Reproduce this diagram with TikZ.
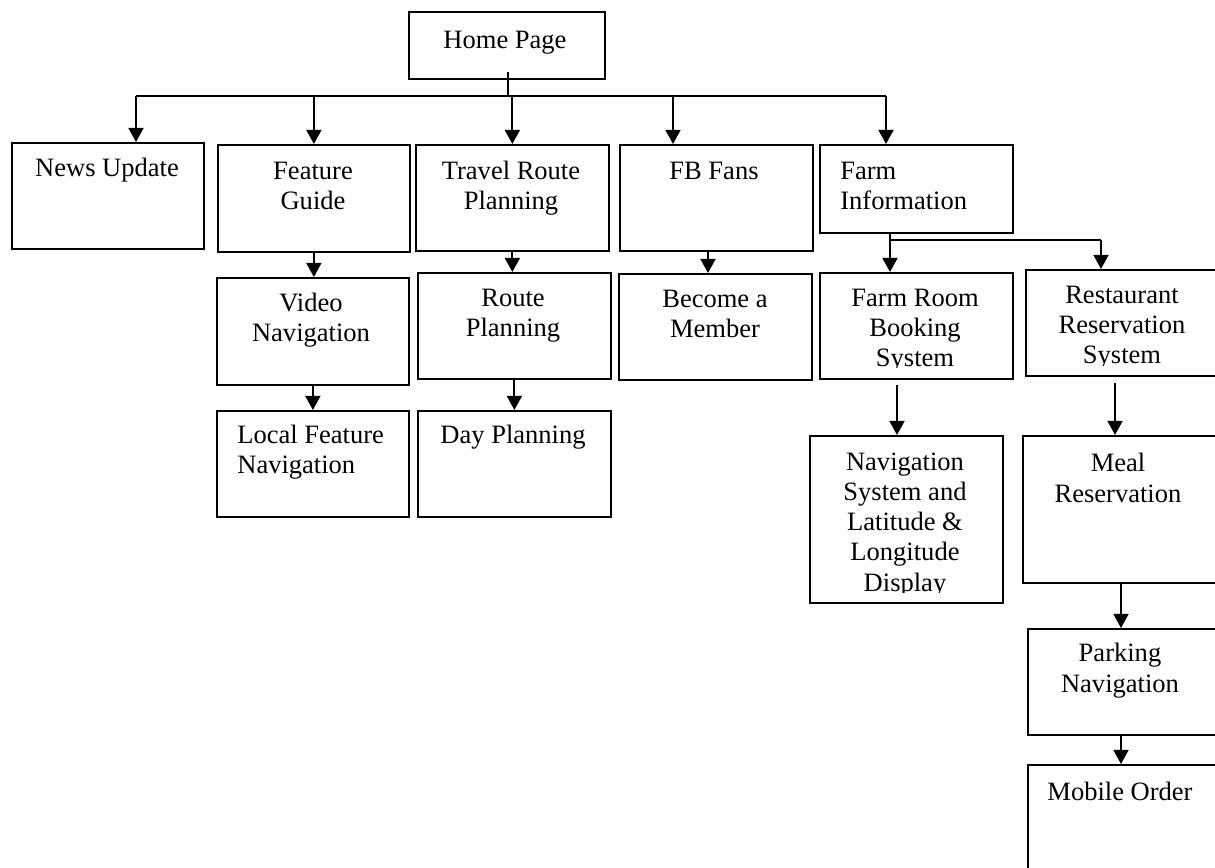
\documentclass[tikz,border=0pt]{standalone}
\usepackage{fontspec}
\setmainfont{Liberation Serif}
\usetikzlibrary{arrows.meta,positioning}

\begin{document}
\begin{tikzpicture}[x=0.02cm,y=-0.02cm]
  % Styles for page boxes, their texts and the links
  \tikzset{pagebox/.style 2 args={draw, line width=1pt, anchor=north west, inner sep=0pt,
      minimum width=#1*0.02cm, minimum height=#2*0.02cm}}
  % texts sit on the baseline of their last line
  \tikzset{pagetext/.style={anchor=base, align=center, inner sep=0pt,
      font=\fontsize{15.1}{17.1}\selectfont}}
  \tikzset{pageleft/.style={pagetext, anchor=base west, align=left}}
  \tikzset{navline/.style={line width=1.1pt}}
  \tikzset{navarrow/.style={navline, -{Triangle[width=8.5pt,length=8pt]}}}

  \clip (0,0) rectangle (1215,868);

  % Home page
  \node[pagebox={196}{67}] (home) at (408,11) {};
  \node[pagetext] (homeT) at (505,49) {Home Page};

  % First level
  \node[pagebox={192}{106}] (news) at (11,142) {};
  \node[pagetext] (newsT) at (107,177) {News Update};

  \node[pagebox={192}{107}] (feature) at (217,144) {};
  \node[pagetext] (featureT) at (313,210) {Feature\\Guide};

  \node[pagebox={193}{106}] (travel) at (415,144) {};
  \node[pagetext] (travelT) at (511,210) {Travel Route\\Planning};

  \node[pagebox={193}{106}] (fbfans) at (619,144) {};
  \node[pagetext] (fbfansT) at (714,180) {FB Fans};

  \node[pagebox={193}{88}] (farminfo) at (819,144) {};
  \node[pageleft] (farminfoT) at (840,210) {Farm\\Information};

  % Second level
  \node[pagebox={192}{107}] (video) at (216,277) {};
  \node[pagetext] (videoT) at (311,342) {Video\\Navigation};

  \node[pagebox={193}{106}] (route) at (417,272) {};
  \node[pagetext] (routeT) at (513,337) {Route\\Planning};

  \node[pagebox={193}{106}] (member) at (618,273) {};
  \node[pagetext] (memberT) at (715,338) {Become a\\Member};

  \node[pagebox={193}{106}] (farmroom) at (819,272) {};
  \begin{scope}
    \clip (farmroom.north west) rectangle (1012,368);
    \node[pagetext] (farmroomT) at (915,367) {Farm Room\\Booking\\System};
  \end{scope}

  \node[pagebox={200}{106}] (restaurant) at (1025,269) {};
  \begin{scope}
    \clip (restaurant.north west) rectangle (1215,366);
    \node[pagetext] (restaurantT) at (1122,364) {Restaurant\\Reservation\\System};
  \end{scope}

  % Third level and below
  \node[pagebox={192}{106}] (local) at (216,410) {};
  \node[pageleft] (localT) at (237,474) {Local Feature\\Navigation};

  \node[pagebox={193}{106}] (day) at (417,410) {};
  \node[pagetext] (dayT) at (513,444) {Day Planning};

  \node[pagebox={193}{167}] (navsys) at (809,435) {};
  \begin{scope}
    \clip (navsys.north west) rectangle (1002,592);
    \node[pagetext] (navsysT) at (905,591) {Navigation\\System and\\Latitude \&\\Longitude\\Display};
  \end{scope}

  \node[pagebox={200}{147}] (meal) at (1022,435) {};
  \node[pagetext] (mealT) at (1118,502) {Meal\\Reservation};

  \node[pagebox={200}{106}] (parking) at (1027,628) {};
  \node[pagetext] (parkingT) at (1120,692) {Parking\\Navigation};

  \node[pagebox={200}{120}] (mobile) at (1027,764) {};
  \node[pagetext] (mobileT) at (1120,800) {Mobile Order};

  % Links from the home page
  \coordinate (hub) at (508,96);
  \coordinate (busL) at (136,96);
  \coordinate (busR) at (886,96);
  \coordinate (fbtap) at (673,96);
  \draw[line width=0.6pt] ([yshift=0.16cm]home.south -| hub) -- (hub);
  \draw[navline] (busL) -- (busR);
  \draw[navarrow] (busL) -- (busL |- news.north);
  \draw[navarrow] (feature.north |- hub) -- (feature.north);
  \draw[navarrow] (travel.north |- hub) -- (travel.north);
  \draw[navarrow] (fbtap) -- (fbtap |- fbfans.north);
  \draw[navarrow] (busR) -- (busR |- farminfo.north);

  % Links from farm information
  \coordinate (farmtap) at (890,240);
  \coordinate (farmR) at (1101,240);
  \draw[navarrow] (farmtap |- farminfo.south) -- (farmtap |- farmroom.north);
  \draw[navline] (farmtap) -- (farmR);
  \draw[navarrow] (farmR) -- (farmR |- restaurant.north);

  % Links down the columns
  \coordinate (fbdown) at (708,250);
  \coordinate (roomtap) at (897,385);
  \coordinate (resttap) at (1115,383);
  \coordinate (mealtap) at (1121,582);
  \draw[navarrow] (feature.south) -- (feature.south |- video.north);
  \draw[navarrow] (video.south) -- (video.south |- local.north);
  \draw[navarrow] (travel.south) -- (travel.south |- route.north);
  \draw[navarrow] (route.south) -- (route.south |- day.north);
  \draw[navarrow] (fbdown) -- (fbdown |- member.north);
  \draw[navarrow] (roomtap) -- (roomtap |- navsys.north);
  \draw[navarrow] (resttap) -- (resttap |- meal.north);
  \draw[navarrow] (mealtap) -- (mealtap |- parking.north);
  \draw[navarrow] (mealtap |- parking.south) -- (mealtap |- mobile.north);
\end{tikzpicture}
\end{document}
